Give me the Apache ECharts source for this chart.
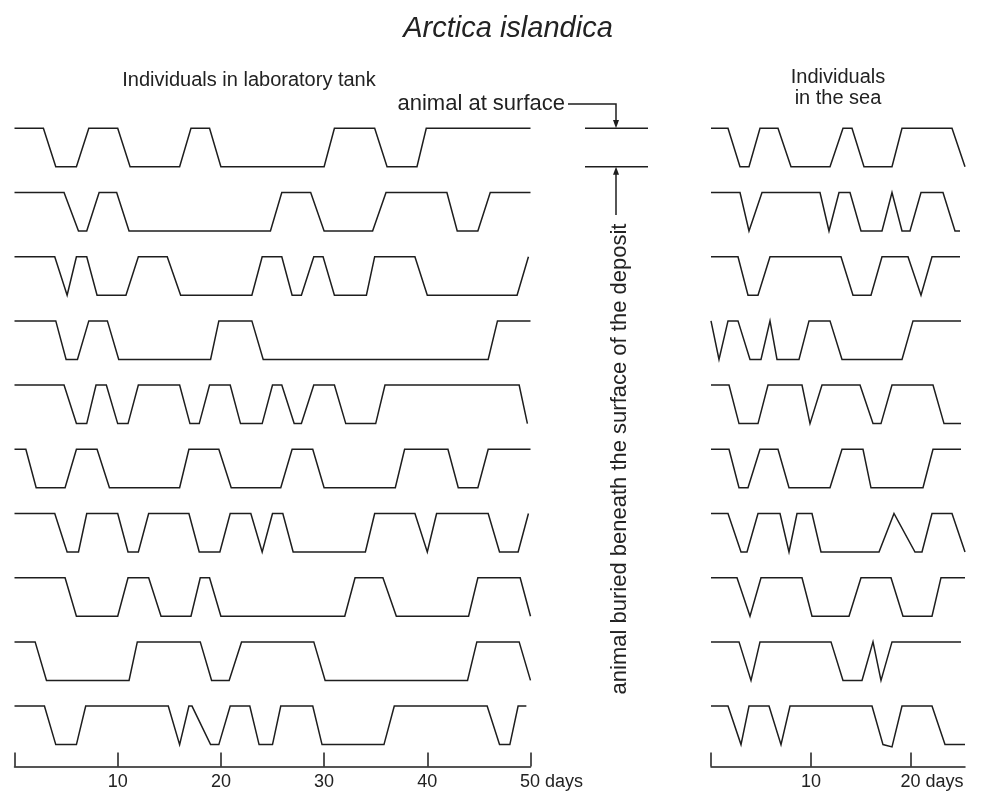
<!DOCTYPE html>
<html>
<head>
<meta charset="utf-8">
<script src="https://cdn.jsdelivr.net/npm/echarts@6/dist/echarts.min.js"></script>
<style>
html,body{margin:0;padding:0;background:#fff;}
#chart{width:988px;height:799px;}
</style>
</head>
<body>
<div id="chart"></div>
<script>
// ---- Data: [day, state] breakpoints (1 = animal at surface, 0 = buried) ----
const LAB1 = [[0,1],[2.8,1],[4,0],[6,0],[7.2,1],[10,1],[11.2,0],[16,0],[17.1,1],[18.9,1],[20,0],[30,0],[31,1],[34.9,1],[36.1,0],[39,0],[39.9,1],[50,1]];
const LAB2 = [[0,1],[4.8,1],[6.2,0],[7,0],[8.2,1],[9.9,1],[11.1,0],[24.8,0],[25.9,1],[28.7,1],[30,0],[34.7,0],[36,1],[41.9,1],[42.9,0],[44.9,0],[46.1,1],[50,1]];
const LAB3 = [[0,1],[3.9,1],[5.1,0],[6,1],[7,1],[8,0],[10.8,0],[12,1],[14.8,1],[16.1,0],[23,0],[24,1],[25.9,1],[26.9,0],[27.8,0],[29,1],[29.9,1],[31,0],[34.1,0],[34.9,1],[38.8,1],[40,0],[48.7,0],[49.8,1]];
const LAB4 = [[0,1],[4,1],[5,0],[6.1,0],[7.2,1],[9,1],[10.1,0],[19,0],[19.8,1],[23,1],[24.1,0],[45.9,0],[46.8,1],[50,1]];
const LAB5 = [[0,1],[4.8,1],[6,0],[7,0],[7.9,1],[8.9,1],[10,0],[11,0],[12,1],[16,1],[17,0],[17.9,0],[18.9,1],[20.9,1],[21.9,0],[24,0],[25,1],[25.9,1],[27.1,0],[27.8,0],[29,1],[31,1],[32.1,0],[35,0],[35.9,1],[48.9,1],[49.7,0]];
const LAB6 = [[0,1],[1.1,1],[2.1,0],[4.9,0],[6,1],[8,1],[9.2,0],[16,0],[16.9,1],[19.8,1],[21,0],[25.8,0],[26.9,1],[28.9,1],[30,0],[36.9,0],[37.8,1],[42,1],[43,0],[44.9,0],[45.9,1],[50,1]];
const LAB7 = [[0,1],[3.9,1],[5.1,0],[6.2,0],[7,1],[10,1],[11,0],[12,0],[13,1],[16.9,1],[17.9,0],[19.9,0],[20.9,1],[22.9,1],[24,0],[25,1],[26,1],[27,0],[34,0],[34.9,1],[38.8,1],[40,0],[40.9,1],[45.9,1],[47,0],[48.8,0],[49.8,1]];
const LAB8 = [[0,1],[4.9,1],[6,0],[10,0],[11,1],[13,1],[14.2,0],[17.1,0],[18,1],[18.9,1],[20,0],[32,0],[33,1],[35.7,1],[37,0],[44,0],[44.9,1],[49,1],[50,0]];
const LAB9 = [[0,1],[2,1],[3.1,0],[11.1,0],[11.9,1],[18,1],[19.1,0],[20.8,0],[22,1],[29,1],[30.1,0],[43.9,0],[44.8,1],[48.9,1],[50,0]];
const LAB10 = [[0,1],[2.9,1],[4,0],[6,0],[6.9,1],[14.9,1],[16,0],[16.9,1],[17.2,1],[19,0],[19.8,0],[20.9,1],[22.8,1],[23.7,0],[25,0],[25.8,1],[28.9,1],[29.8,0],[35.8,0],[36.8,1],[45.8,1],[47,0],[48,0],[48.8,1],[49.6,1]];

const SEA1 = [[0,1],[1.7,1],[2.9,0],[3.8,0],[4.9,1],[6.7,1],[8,0],[11.9,0],[13.2,1],[14.1,1],[15.3,0],[18.1,0],[19.1,1],[24.1,1],[25.4,0]];
const SEA2 = [[0,1],[2.9,1],[3.8,0],[5.1,1],[10.9,1],[11.8,0],[12.8,1],[13.9,1],[15,0],[17.1,0],[18.1,1],[19.1,0],[19.9,0],[21,1],[23.2,1],[24.4,0],[24.9,0]];
const SEA3 = [[0,1],[2.7,1],[3.7,0],[4.7,0],[5.9,1],[13,1],[14.2,0],[16,0],[17.1,1],[19.7,1],[21,0],[22.1,1],[24.9,1]];
const SEA4 = [[0,1],[0.8,0],[1.7,1],[2.7,1],[3.9,0],[5,0],[5.9,1],[6.6,0],[8.8,0],[9.8,1],[11.9,1],[13.1,0],[19.1,0],[20.2,1],[25,1]];
const SEA5 = [[0,1],[1.8,1],[2.8,0],[4.7,0],[5.7,1],[9.1,1],[9.9,0],[11.1,1],[14.9,1],[16.2,0],[17,0],[18.1,1],[22.2,1],[23.3,0],[25,0]];
const SEA6 = [[0,1],[1.8,1],[2.8,0],[3.7,0],[4.9,1],[6.7,1],[7.8,0],[11.9,0],[13.1,1],[15.2,1],[16,0],[21.2,0],[22.2,1],[25,1]];
const SEA7 = [[0,1],[1.7,1],[3,0],[3.6,0],[4.7,1],[6.9,1],[7.8,0],[8.6,1],[10.1,1],[11,0],[16.8,0],[18.3,1],[20.4,0],[21.1,0],[22.1,1],[24.1,1],[25.4,0]];
const SEA8 = [[0,1],[2.6,1],[3.9,0],[5,1],[9.1,1],[10.1,0],[13.8,0],[15,1],[18,1],[19.2,0],[22.1,0],[23,1],[25.4,1]];
const SEA9 = [[0,1],[2.8,1],[4,0],[4.9,1],[12,1],[13.2,0],[15.1,0],[16.2,1],[17,0],[18.1,1],[25,1]];
const SEA10 = [[0,1],[1.7,1],[3,0],[3.8,1],[5.8,1],[7,0],[7.9,1],[16.1,1],[17.2,0],[18.1,-0.06],[19.1,1],[22.1,1],[23.4,0],[25.4,0]];

const LAB_TICKS = [10, 20, 30, 40, 50];
const SEA_TICKS = [10, 20];
const UNIT = 'days';

const LAB = [LAB1,LAB2,LAB3,LAB4,LAB5,LAB6,LAB7,LAB8,LAB9,LAB10];
const SEA = [SEA1,SEA2,SEA3,SEA4,SEA5,SEA6,SEA7,SEA8,SEA9,SEA10];

// ---- Layout ----
const ROW_GAP = 64.2, AMP = 38.5;
const K = ROW_GAP / AMP;
const NROWS = LAB.length;
const TOP = 128.3;
const HEIGHT = ((NROWS - 1) * K + 1) * AMP;
const FONT = '"Liberation Sans", Arial, sans-serif';
const INK = '#1e1e1e';

const chart = echarts.init(document.getElementById('chart'), null, {renderer: 'canvas'});

function rowSeries(rows, axisIndex) {
  return rows.map((r, i) => ({
    type: 'line',
    xAxisIndex: axisIndex,
    yAxisIndex: axisIndex,
    data: r.map(p => [p[0], p[1] - i * K]),
    symbol: 'none',
    clip: false,
    silent: true,
    lineStyle: {color: INK, width: 1.5, join: 'miter'}
  }));
}

function xAxisCfg(gridIndex, max, ticks, all) {
  return {
    type: 'value', gridIndex, min: 0, max, position: 'bottom', offset: 22,
    splitLine: {show: false},
    axisLine: {show: true, onZero: false, lineStyle: {color: INK, width: 1.5}},
    axisTick: {show: true, inside: true, length: 14, customValues: all, lineStyle: {color: INK, width: 1.5}},
    axisLabel: {
      show: true, customValues: ticks, margin: 6, color: '#222',
      fontFamily: FONT, fontSize: 18,
      formatter: v => v === ticks[ticks.length - 1] ? '{n|' + v + '}{d| ' + UNIT + '}' : String(v),
      rich: {
        n: {fontFamily: FONT, fontSize: 18, color: '#222', padding: [0, 0, 0, 42]},
        d: {fontFamily: FONT, fontSize: 18, color: '#222'}
      }
    }
  };
}

const yCfg = gi => ({type: 'value', gridIndex: gi, min: -(NROWS - 1) * K, max: 1, show: false});

const option = {
  animation: false,
  backgroundColor: '#fff',
  grid: [
    {left: 14.5, top: TOP, width: 516, height: HEIGHT},
    {left: 711, top: TOP, width: 254, height: HEIGHT}
  ],
  xAxis: [
    xAxisCfg(0, 50, LAB_TICKS, [0].concat(LAB_TICKS)),
    xAxisCfg(1, 25.4, SEA_TICKS, [0].concat(SEA_TICKS))
  ],
  yAxis: [yCfg(0), yCfg(1)],
  series: rowSeries(LAB, 0).concat(rowSeries(SEA, 1)),
  graphic: [
    {type: 'text', x: 508, y: 29, style: {text: 'Arctica islandica', font: 'italic 29px ' + FONT, fill: '#222', textAlign: 'center', textVerticalAlign: 'middle'}},
    {type: 'text', x: 249, y: 80, style: {text: 'Individuals in laboratory tank', font: '20px ' + FONT, fill: '#222', textAlign: 'center', textVerticalAlign: 'middle'}},
    {type: 'text', x: 838, y: 88, style: {text: 'Individuals\nin the sea', font: '20px ' + FONT, lineHeight: 21, fill: '#222', textAlign: 'center', textVerticalAlign: 'middle'}},
    {type: 'text', x: 565, y: 104, style: {text: 'animal at surface', font: '22px ' + FONT, fill: '#222', textAlign: 'right', textVerticalAlign: 'middle'}},
    {type: 'line', shape: {x1: 585, y1: TOP, x2: 648, y2: TOP}, style: {stroke: INK, lineWidth: 1.5}},
    {type: 'line', shape: {x1: 585, y1: TOP + AMP, x2: 648, y2: TOP + AMP}, style: {stroke: INK, lineWidth: 1.5}},
    {type: 'polyline', shape: {points: [[568, 104], [616, 104], [616, 122]]}, style: {stroke: INK, lineWidth: 1.5, fill: null}},
    {type: 'polygon', shape: {points: [[613, 120], [619, 120], [616, TOP]]}, style: {fill: INK}},
    {type: 'line', shape: {x1: 616, y1: 215, x2: 616, y2: TOP + AMP + 6}, style: {stroke: INK, lineWidth: 1.5}},
    {type: 'polygon', shape: {points: [[613, TOP + AMP + 8], [619, TOP + AMP + 8], [616, TOP + AMP]]}, style: {fill: INK}},
    {type: 'text', x: 620, y: 459, rotation: Math.PI / 2, style: {text: 'animal buried beneath the surface of the deposit', font: '22px ' + FONT, fill: '#222', textAlign: 'center', textVerticalAlign: 'middle'}}
  ]
};
chart.setOption(option);
</script>
</body>
</html>
